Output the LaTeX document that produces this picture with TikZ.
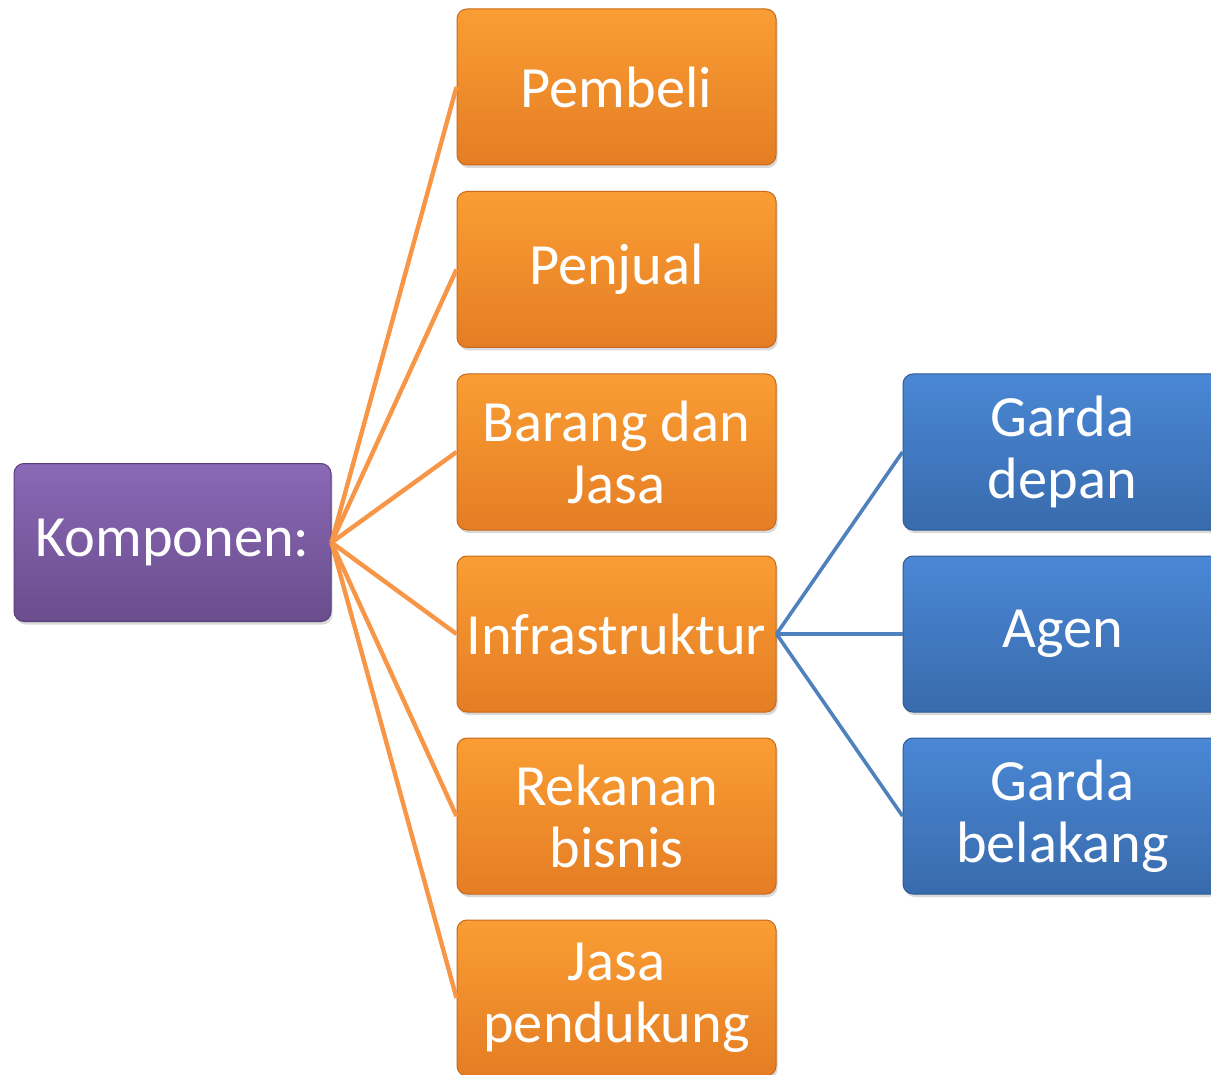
\documentclass[tikz,border=0pt]{standalone}
\usepackage{fontspec}
\setmainfont{Carlito}
\usetikzlibrary{shadows}
\definecolor{orTop}{HTML}{FA9D33}
\definecolor{orBot}{HTML}{E47D24}
\definecolor{orEdge}{HTML}{C8691C}
\definecolor{orLine}{HTML}{F79646}
\definecolor{puTop}{HTML}{8A69B6}
\definecolor{puBot}{HTML}{6A4D8D}
\definecolor{puEdge}{HTML}{5A4078}
\definecolor{blTop}{HTML}{4A87D5}
\definecolor{blBot}{HTML}{386BAC}
\definecolor{blEdge}{HTML}{2F5B92}
\definecolor{blLine}{HTML}{4F81BD}
\tikzset{
  box/.style={rounded corners=5pt, text=white, align=center,
    font=\fontsize{29.2}{31}\selectfont, inner sep=0pt, line width=0.5pt,
    drop shadow={opacity=0.3, shadow xshift=0.8pt, shadow yshift=-1.5pt}},
  orbox/.style={box, top color=orTop, bottom color=orBot, draw=orEdge,
    minimum width=159.5pt, minimum height=78pt},
  pubox/.style={box, top color=puTop, bottom color=puBot, draw=puEdge,
    minimum width=158.5pt, minimum height=79pt},
  blbox/.style={box, top color=blTop, bottom color=blBot, draw=blEdge,
    minimum width=159.5pt, minimum height=78pt},
  orlink/.style={draw=orLine, line width=2.2pt},
  bllink/.style={draw=blLine, line width=1.8pt}
}
\begin{document}
\begin{tikzpicture}[x=0.5pt, y=-0.5pt]
\useasboundingbox (0,0) rectangle (1211,1075);
\clip (0,0) rectangle (1211,1075);
% nodes
\node[pubox] (k) at (172.5,542.5) {Komponen:};
\node[orbox] (o1) at (616.5,87) {Pembeli};
\node[orbox] (o2) at (616.5,269.5) {Penjual};
\node[orbox] (o3) at (616.5,452) {Barang dan\\Jasa};
\node[orbox] (o4) at (616.5,634) {Infrastruktur};
\node[orbox] (o5) at (616.5,816) {Rekanan\\bisnis};
\node[orbox] (o6) at (616.5,998) {Jasa\\pendukung};
\node[blbox] (b1) at (1062.5,452) {Garda\\depan};
\node[blbox] (b2) at (1062.5,634) {Agen};
\node[blbox] (b3) at (1062.5,816) {Garda\\belakang};
% connectors
\foreach \t in {o1,o2,o3,o4,o5,o6}
  \draw[orlink] (k.east) -- (\t.west);
\foreach \t in {b1,b2,b3}
  \draw[bllink] (o4.east) -- (\t.west);
\end{tikzpicture}
\end{document}
